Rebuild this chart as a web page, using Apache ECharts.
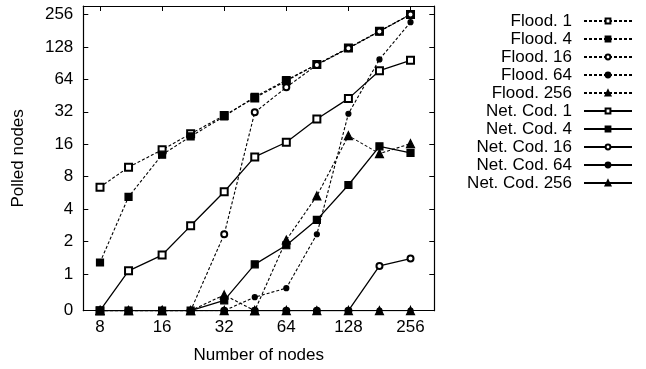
<!DOCTYPE html>
<html>
<head>
<meta charset="utf-8">
<script src="https://cdn.jsdelivr.net/npm/echarts@6/dist/echarts.min.js"></script>
<style>
  html, body { margin: 0; padding: 0; background: #fff; }
  #chart { width: 646px; height: 369px; }
</style>
</head>
<body>
<div id="chart"></div>
<script>
// number of nodes (x, log2 axis)
var nodes = [8, 11, 16, 22, 32, 45, 64, 90, 128, 181, 256];
var xTicks = [8, 16, 32, 64, 128, 256];
var yTicks = [0, 1, 2, 4, 8, 16, 32, 64, 128, 256];

// polled nodes per series
var flood1   = [6.4, 9.8, 14.2, 20, 29.6, 43, 62, 88, 125, 179, 256];
var flood4   = [1.28, 5.2, 12.8, 18.9, 29, 44, 63, 88, 125, 179, 256];
var flood16  = [0, 0, 0, 0, 2.34, 31.6, 54, 87, 124, 178, 256];
var flood64  = [0, 0, 0, 0, 0, 0.61, 0.74, 2.34, 30.7, 98, 217];
var flood256 = [0, 0, 0, 0, 0.64, 0, 2.07, 5.3, 19.2, 13.1, 16.2];
var nc1   = [0, 1.07, 1.5, 2.8, 5.8, 12.2, 16.7, 27.4, 42.4, 77, 96];
var nc4   = [0, 0, 0, 0, 0.57, 1.23, 1.85, 3.18, 6.7, 15.3, 13.3];
var nc16  = [0, 0, 0, 0, 0, 0, 0, 0, 0, 1.19, 1.39];
var nc64  = [0, 0, 0, 0, 0, 0, 0, 0, 0, 0, 0];
var nc256 = [0, 0, 0, 0, 0, 0, 0, 0, 0, 0, 0];

var ZERO = -1.13; // where 0 sits on the log2 y axis
function ly(v) { return v > 0 ? Math.log2(v) : ZERO; }
function lx(v) { return Math.log2(v); }

var FONT = 'Liberation Sans';

function mk(name, arr, symbol, size, dashed) {
    return {
        name: name,
        type: 'line',
        data: arr.map(function (v, i) { return [lx(nodes[i]), ly(v)]; }),
        symbol: symbol,
        symbolSize: size,
        showAllSymbol: true,
        itemStyle: { color: '#000', borderColor: '#000', borderWidth: 1.2 },
        lineStyle: {
            color: '#000',
            width: dashed ? 1.1 : 1.3,
            type: dashed ? [3, 2] : 'solid'
        }
    };
}

var dom = document.getElementById('chart');
var myChart = echarts.init(dom);

var xl = xTicks.map(lx);
var yl = yTicks.map(ly);

var boxLine = { onZero: false, lineStyle: { color: '#000', width: 1.2 } };

var option = {
    animation: false,
    backgroundColor: '#fff',
    textStyle: { fontFamily: FONT },
    grid: { left: 83.3, right: 211.7, top: 6, bottom: 58.3 },
    legend: {
        orient: 'vertical',
        align: 'right',
        right: 13,
        top: 12,
        padding: 0,
        itemWidth: 48,
        itemHeight: 6,
        itemGap: 0,
        textStyle: { fontFamily: FONT, fontSize: 17, color: '#000', lineHeight: 18, padding: [0, 7, 0, 0] },
        data: ['Flood. 1', 'Flood. 4', 'Flood. 16', 'Flood. 64', 'Flood. 256',
               'Net. Cod. 1', 'Net. Cod. 4', 'Net. Cod. 16', 'Net. Cod. 64', 'Net. Cod. 256']
    },
    xAxis: [
        {
            type: 'value',
            min: 2.731,
            max: 8.383,
            name: 'Number of nodes',
            nameLocation: 'middle',
            nameGap: 36,
            nameTextStyle: { fontFamily: FONT, fontSize: 17, color: '#000' },
            axisLine: boxLine,
            axisTick: { inside: true, length: 5, customValues: xl, lineStyle: { color: '#000' } },
            axisLabel: {
                customValues: xl, margin: 8, fontFamily: FONT, fontSize: 17, color: '#000',
                formatter: function (v) { return String(Math.round(Math.pow(2, v))); }
            },
            splitLine: { show: false }
        },
        {
            type: 'value',
            position: 'top',
            min: 2.731,
            max: 8.383,
            axisLine: { show: true, onZero: false, lineStyle: { color: '#000', width: 1.2 } },
            axisTick: { inside: true, length: 5, customValues: xl, lineStyle: { color: '#000' } },
            axisLabel: { show: false },
            splitLine: { show: false }
        }
    ],
    yAxis: [
        {
            type: 'value',
            min: ZERO,
            max: 8.26,
            name: 'Polled nodes',
            nameLocation: 'middle',
            nameGap: 56,
            nameTextStyle: { fontFamily: FONT, fontSize: 17, color: '#000' },
            axisLine: { show: true, onZero: false, lineStyle: { color: '#000', width: 1.2 } },
            axisTick: { show: true, inside: true, length: 5, customValues: yl, lineStyle: { color: '#000' } },
            axisLabel: {
                customValues: yl, margin: 10, fontFamily: FONT, fontSize: 17, color: '#000',
                formatter: function (v) { return v < -0.5 ? '0' : String(Math.round(Math.pow(2, v))); }
            },
            splitLine: { show: false }
        },
        {
            type: 'value',
            position: 'right',
            min: ZERO,
            max: 8.26,
            axisLine: { show: true, onZero: false, lineStyle: { color: '#000', width: 1.2 } },
            axisTick: { show: true, inside: true, length: 5, customValues: yl, lineStyle: { color: '#000' } },
            axisLabel: { show: false },
            splitLine: { show: false }
        }
    ],
    series: [
        mk('Flood. 1', flood1, 'emptyRect', 7, true),
        mk('Flood. 4', flood4, 'rect', 7, true),
        mk('Flood. 16', flood16, 'emptyCircle', 6, true),
        mk('Flood. 64', flood64, 'circle', 5, true),
        mk('Flood. 256', flood256, 'triangle', 8, true),
        mk('Net. Cod. 1', nc1, 'emptyRect', 7, false),
        mk('Net. Cod. 4', nc4, 'rect', 7, false),
        mk('Net. Cod. 16', nc16, 'emptyCircle', 6, false),
        mk('Net. Cod. 64', nc64, 'circle', 5, false),
        mk('Net. Cod. 256', nc256, 'triangle', 8, false)
    ]
};

if (option && typeof option === "object") {
    myChart.setOption(option, true);
}
</script>
</body>
</html>
